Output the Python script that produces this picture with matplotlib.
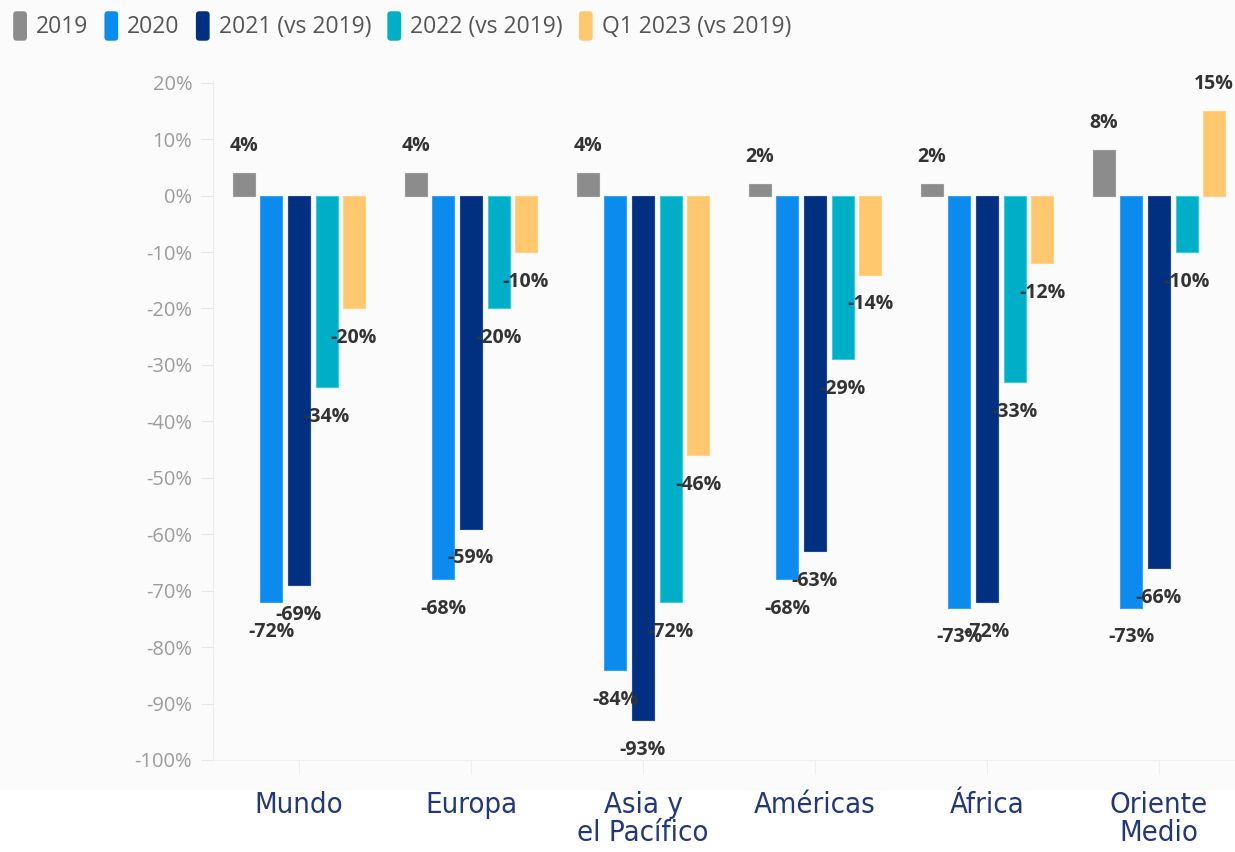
import matplotlib
matplotlib.use("Agg")
import matplotlib.pyplot as plt
import numpy as np
from matplotlib.patches import Rectangle, FancyBboxPatch
from matplotlib.legend_handler import HandlerPatch

categories = ["Mundo", "Europa", "Asia y\nel Pacífico", "Américas", "África", "Oriente\nMedio"]
series_names = ["2019", "2020", "2021 (vs 2019)", "2022 (vs 2019)", "Q1 2023 (vs 2019)"]
v2019 = [4, 4, 4, 2, 2, 8]
v2020 = [-72, -68, -84, -68, -73, -73]
v2021 = [-69, -59, -93, -63, -72, -66]
v2022 = [-34, -20, -72, -29, -33, -10]
v2023 = [-20, -10, -46, -14, -12, 15]
series_values = [v2019, v2020, v2021, v2022, v2023]
colors = ["#8c8c8c", "#0a8bed", "#00307f", "#00aec7", "#ffc86e"]
edges = ["#9a9a9a", "#3aa2f2", "#1a4896", "#33d0e0", "#ffd28a"]
yticks = list(range(-100, 21, 10))
ytick_labels = [f"{t}%" for t in yticks]

W, H = 1235, 852
fig = plt.figure(figsize=(W / 100, H / 100), dpi=100)
fig.patch.set_facecolor("white")
fig.add_artist(Rectangle((0, (H - 790) / H), 1, 790 / H, transform=fig.transFigure,
                         facecolor="#fbfbfb", edgecolor="none", zorder=-10))

left, right = 213 / W, 1.0
bottom, top = (H - 760) / H, (H - 81) / H
ax = fig.add_axes([left, bottom, right - left, top - bottom])
ax.set_facecolor("none")

x = np.arange(len(categories))
step = 0.16
width = 0.128
containers = []
for i, (name, vals, c, ec) in enumerate(zip(series_names, series_values, colors, edges)):
    pos = x + (i - 2) * step
    bc = ax.bar(pos, vals, width=width, color=c, edgecolor=ec, linewidth=0.8, label=name)
    containers.append(bc)
    for xp, v in zip(pos, vals):
        off = 19.5 if v >= 0 else -21.5
        ax.annotate(f"{v}%", (xp, v), xytext=(0, off), textcoords="offset points",
                    ha="center", va="center", fontsize=14, fontweight="bold",
                    color="#333333", family=["Open Sans", "DejaVu Sans"])

ax.set_xlim(-0.5, -0.5 + (1235 - 213) / 172)
ax.set_ylim(-100, 20.3)
ax.set_yticks(yticks)
ax.set_yticklabels(ytick_labels, color="#9c9c9c", fontsize=14.5, family=["Open Sans", "DejaVu Sans"])
ax.set_xticks(x)
ax.set_xticklabels(categories, color="#23387a", fontsize=21,
                   family=["DejaVu Sans"], fontstretch="condensed",
                   linespacing=1.0)
ax.tick_params(axis="y", length=9, color="#e6e6e6", pad=6)
ax.tick_params(axis="x", length=10, color="#eeeeee", pad=12)
for s in ["top", "right"]:
    ax.spines[s].set_visible(False)
ax.spines["left"].set_color("#ececec")
ax.spines["bottom"].set_color("#f0f0f0")


class RoundHandler(HandlerPatch):
    def create_artists(self, legend, orig_handle, xdescent, ydescent, width, height, fontsize, trans):
        fc = orig_handle.patches[0].get_facecolor()
        p = FancyBboxPatch((-xdescent, -ydescent), width, height,
                           boxstyle="round,pad=0,rounding_size=2.5",
                           facecolor=fc, edgecolor="none", transform=trans)
        return [p]


leg = fig.legend(containers, series_names, loc="upper left", bbox_to_anchor=(-0.006, 1.011), ncol=5,
                 frameon=False, handlelength=0.6, handleheight=1.6, handletextpad=0.4,
                 columnspacing=0.7, handler_map={h: RoundHandler() for h in containers},
                 prop={"family": ["Open Sans", "DejaVu Sans"], "size": 16.5})
for t in leg.get_texts():
    t.set_color("#555555")

fig.savefig("out.png", dpi=100)
